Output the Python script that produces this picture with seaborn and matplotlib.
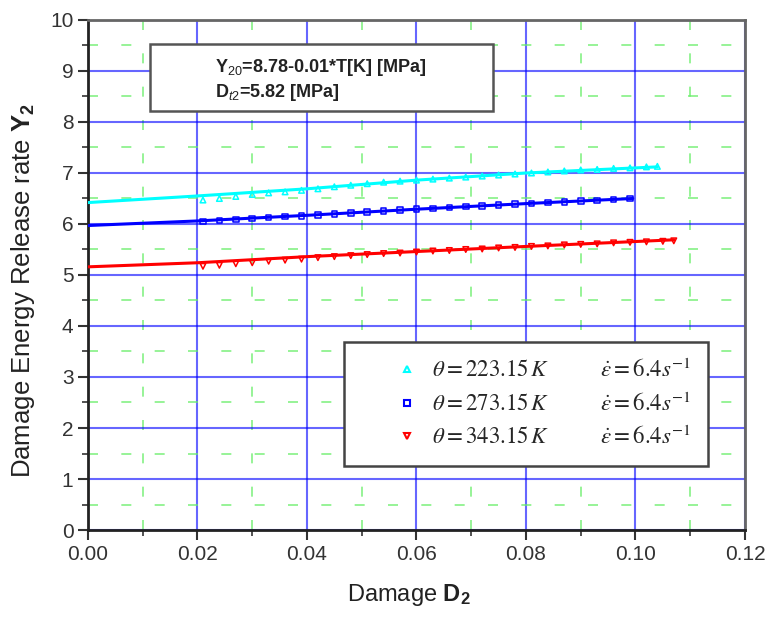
import matplotlib
matplotlib.use("Agg")
import matplotlib.pyplot as plt
import seaborn as sns
import pandas as pd
from matplotlib.ticker import MultipleLocator
from matplotlib.lines import Line2D
from matplotlib.patches import Rectangle

# ---- data ----
series_labels = [r"$\theta = 223.15\,K\qquad\quad\;\dot{\varepsilon} = 6.4s^{-1}$",
                 r"$\theta = 273.15\,K\qquad\quad\;\dot{\varepsilon} = 6.4s^{-1}$",
                 r"$\theta = 343.15\,K\qquad\quad\;\dot{\varepsilon} = 6.4s^{-1}$"]
colors = ["#00ffff", "#0000ff", "#ff0000"]
markers = ["^", "s", "v"]

# fitted lines
line_x_c = [0.0, 0.02, 0.04, 0.06, 0.08, 0.104]
line_y_c = [6.42, 6.55, 6.69, 6.86, 7.00, 7.12]
line_x_b = [0.0, 0.02, 0.04, 0.06, 0.08, 0.0995]
line_y_b = [5.97, 6.06, 6.17, 6.29, 6.40, 6.50]
line_x_r = [0.0, 0.02, 0.04, 0.06, 0.08, 0.107]
line_y_r = [5.16, 5.24, 5.36, 5.46, 5.56, 5.69]

# experimental points
pts_x_c = [0.021, 0.024, 0.027, 0.030, 0.033, 0.036, 0.039, 0.042, 0.045, 0.048,
           0.051, 0.054, 0.057, 0.060, 0.063, 0.066, 0.069, 0.072, 0.075, 0.078,
           0.081, 0.084, 0.087, 0.090, 0.093, 0.096, 0.099, 0.102, 0.104]
pts_y_c = [6.47, 6.50, 6.54, 6.58, 6.61, 6.63, 6.66, 6.69, 6.73, 6.76,
           6.79, 6.82, 6.84, 6.86, 6.88, 6.90, 6.92, 6.94, 6.96, 6.98,
           7.00, 7.02, 7.04, 7.06, 7.07, 7.09, 7.10, 7.12, 7.13]
pts_x_b = [0.021, 0.024, 0.027, 0.030, 0.033, 0.036, 0.039, 0.042, 0.045, 0.048,
           0.051, 0.054, 0.057, 0.060, 0.063, 0.066, 0.069, 0.072, 0.075, 0.078,
           0.081, 0.084, 0.087, 0.090, 0.093, 0.096, 0.099]
pts_y_b = [6.05, 6.07, 6.09, 6.11, 6.13, 6.15, 6.16, 6.18, 6.20, 6.22,
           6.24, 6.25, 6.27, 6.29, 6.30, 6.32, 6.34, 6.35, 6.37, 6.39,
           6.40, 6.42, 6.43, 6.45, 6.46, 6.48, 6.50]
pts_x_r = [0.021, 0.024, 0.027, 0.030, 0.033, 0.036, 0.039, 0.042, 0.045, 0.048,
           0.051, 0.054, 0.057, 0.060, 0.063, 0.066, 0.069, 0.072, 0.075, 0.078,
           0.081, 0.084, 0.087, 0.090, 0.093, 0.096, 0.099, 0.102, 0.105, 0.107]
pts_y_r = [5.17, 5.19, 5.22, 5.24, 5.27, 5.29, 5.31, 5.34, 5.36, 5.38,
           5.40, 5.42, 5.43, 5.45, 5.47, 5.48, 5.50, 5.51, 5.53, 5.54,
           5.56, 5.57, 5.59, 5.60, 5.61, 5.63, 5.64, 5.65, 5.66, 5.67]

xlabel = r"Damage $\mathbf{D_2}$"
ylabel = r"Damage Energy Release rate $\mathbf{Y_2}$"
box_lines = ["Y$_{20}$=8.78-0.01*T[K] [MPa]", "D$_{t2}$=5.82 [MPa]"]

# ---- style ----
sns.set_style("white")
plt.rcParams["font.family"] = ["Liberation Sans", "DejaVu Sans"]
plt.rcParams["mathtext.fontset"] = "custom"
plt.rcParams["mathtext.rm"] = "Liberation Sans"
plt.rcParams["mathtext.bf"] = "Liberation Sans:bold"
plt.rcParams["mathtext.it"] = "Liberation Sans:italic"

fig = plt.figure(figsize=(7.67, 6.17), dpi=100)
ax = fig.add_axes([0.1147, 0.141, 0.8566, 0.8266])

lines = [(line_x_c, line_y_c), (line_x_b, line_y_b), (line_x_r, line_y_r)]
pts = [(pts_x_c, pts_y_c), (pts_x_b, pts_y_b), (pts_x_r, pts_y_r)]

for (lx, ly), (px, py), c, m in zip(lines, pts, colors, markers):
    sns.lineplot(x=lx, y=ly, ax=ax, color=c, lw=2.2, zorder=4)
    sns.scatterplot(x=px, y=py, ax=ax, marker=m, s=16, facecolor="none",
                    edgecolor=c, linewidth=1.1, zorder=5)

ax.set_xlim(0, 0.12)
ax.set_ylim(0, 10)
ax.xaxis.set_major_locator(MultipleLocator(0.02))
ax.xaxis.set_minor_locator(MultipleLocator(0.01))
ax.yaxis.set_major_locator(MultipleLocator(1))
ax.yaxis.set_minor_locator(MultipleLocator(0.5))
ax.xaxis.set_major_formatter(matplotlib.ticker.FormatStrFormatter("%.2f"))

ax.grid(which="major", color="#0000ff", alpha=0.6, lw=1.5, zorder=0)
ax.grid(which="minor", color="#66ee66", alpha=0.8, lw=1.2,
        linestyle=(0, (6, 14)), zorder=0)
ax.set_axisbelow(True)

ax.tick_params(which="major", direction="out", length=7, width=1.5,
               labelsize=15, colors="#333333", labelcolor="#333333",
               bottom=True, left=True, top=False, right=False)
ax.tick_params(which="minor", direction="out", length=4, width=1.2,
               bottom=True, left=True, top=False, right=False, colors="#333333")
for lab in ax.get_xticklabels() + ax.get_yticklabels():
    lab.set_family(["Liberation Sans Narrow", "Liberation Sans"])

for s in ["left", "bottom"]:
    ax.spines[s].set_color("#222222")
    ax.spines[s].set_linewidth(2)
for s in ["top", "right"]:
    ax.spines[s].set_color("#666666")
    ax.spines[s].set_linewidth(2)

ax.set_xlabel(xlabel, fontsize=17, color="#222222")
ax.set_ylabel(ylabel, fontsize=18.5, color="#222222")
ax.xaxis.set_label_coords(0.489, -0.102)
ax.yaxis.set_label_coords(-0.078, 0.47)

# info box
ax.add_patch(Rectangle((0.0944, 0.822), 0.522, 0.131, transform=ax.transAxes,
                       facecolor="white", edgecolor="#555555", lw=1.8, zorder=6))
for txt, yy in zip(box_lines, [0.906, 0.857]):
    ax.text(0.193, yy, txt, transform=ax.transAxes, fontsize=13,
            fontweight="bold", color="#222222", ha="left", va="center", zorder=7)

handles = [Line2D([], [], linestyle="none", marker=m, markersize=5,
                  markerfacecolor="none", markeredgecolor=c, markeredgewidth=1.5)
           for c, m in zip(colors, markers)]
leg = ax.legend(handles, series_labels, loc="lower right",
                bbox_to_anchor=(0.944, 0.125), fontsize=16.5, frameon=True,
                fancybox=False, edgecolor="#444444", framealpha=1,
                borderpad=0.75, labelspacing=0.45, handletextpad=-0.92,
                borderaxespad=0, handlelength=4.0)
leg.get_frame().set_linewidth(1.8)
leg.set_zorder(8)
for t in leg.get_texts():
    t.set_math_fontfamily("stix")

fig.savefig("out.png", dpi=100)
